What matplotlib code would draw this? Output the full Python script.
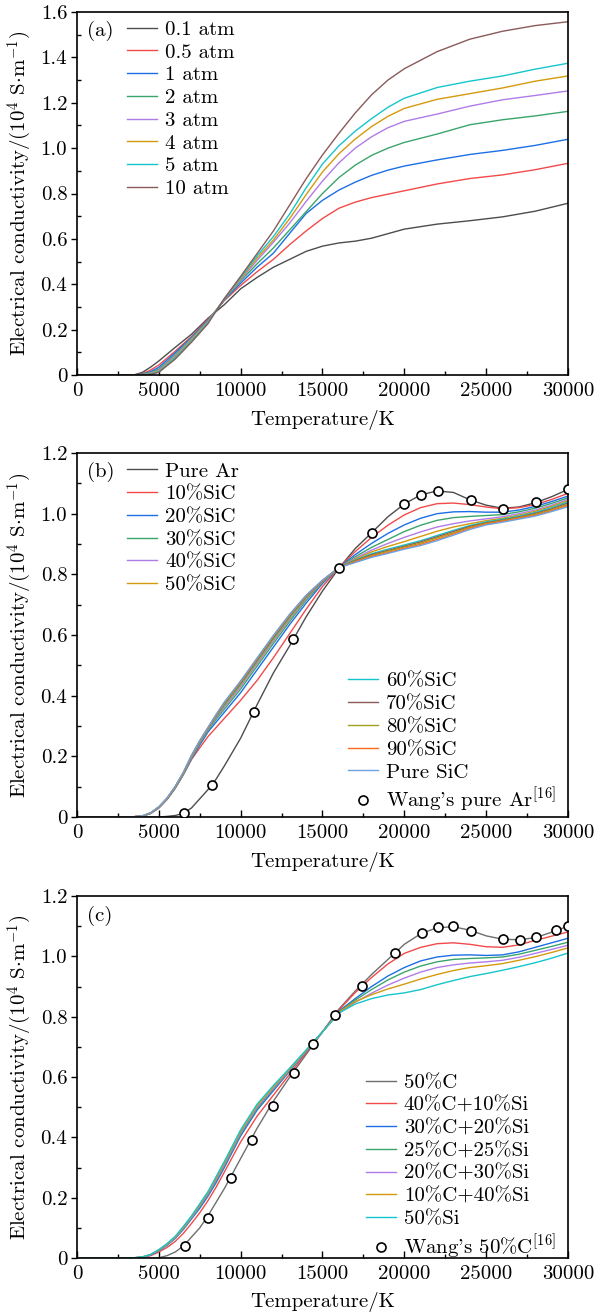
import numpy as np
import matplotlib
matplotlib.use('Agg')
from matplotlib import pyplot as plt
from matplotlib.ticker import MultipleLocator, FuncFormatter
from matplotlib.lines import Line2D

plt.rcParams['font.family'] = ['cmr10', 'DejaVu Serif']
plt.rcParams['mathtext.fontset'] = 'cm'
plt.rcParams['axes.formatter.use_mathtext'] = True
plt.rcParams['font.size'] = 15

# colours
C_GRAY = '#4d4d4d'
C_RED = '#f24a4a'
C_BLUE = '#1c6fe4'
C_GREEN = '#3aa56b'
C_PURPLE = '#b07ce8'
C_ORANGE = '#d49a0c'
C_CYAN = '#14c6cc'
C_BROWN = '#8a5a5a'
C_OLIVE = '#a3a21c'
C_ORANGERED = '#ff6a1f'
C_LIGHTBLUE = '#6aa3e0'

# ---------------- panel (a): pressure ----------------
T_a = [0, 3000, 3500, 4000, 4500, 5000, 6000, 7000, 8000, 8500, 9000, 10000, 11000, 12000,
       13000, 14000, 15000, 16000, 17000, 18000, 19000, 20000, 22000, 24000, 26000, 28000, 30000]
p_labels = ['0.1 atm', '0.5 atm', '1 atm', '2 atm', '3 atm', '4 atm', '5 atm', '10 atm']
p_colors = [C_GRAY, C_RED, C_BLUE, C_GREEN, C_PURPLE, C_ORANGE, C_CYAN, C_BROWN]
sig_01 = [0, 0, .001, .012, .035, .062, .122, .18, .25, .28, .31, .38, .43, .475,
          .51, .545, .568, .582, .59, .603, .623, .643, .665, .68, .697, .722, .757]
sig_05 = [0, 0, 0, .006, .022, .044, .105, .17, .245, .284, .328, .395, .455, .51,
          .575, .635, .69, .735, .762, .782, .797, .812, .842, .866, .882, .905, .933]
sig_1 = [0, 0, 0, .004, .015, .034, .098, .166, .241, .285, .331, .405, .475, .537,
         .625, .712, .77, .815, .85, .88, .903, .921, .948, .972, .99, 1.012, 1.039]
sig_2 = [0, 0, 0, .003, .012, .026, .09, .163, .238, .285, .333, .415, .49, .56,
         .64, .72, .80, .87, .925, .968, 1.0, 1.025, 1.062, 1.103, 1.125, 1.142, 1.162]
sig_3 = [0, 0, 0, .002, .009, .022, .085, .159, .236, .285, .334, .42, .505, .585,
         .67, .765, .855, .935, 1.0, 1.05, 1.09, 1.118, 1.15, 1.185, 1.213, 1.232, 1.252]
sig_4 = [0, 0, 0, .001, .007, .018, .08, .155, .233, .285, .335, .425, .515, .595,
         .69, .795, .895, .975, 1.04, 1.095, 1.14, 1.175, 1.215, 1.24, 1.265, 1.295, 1.318]
sig_5 = [0, 0, 0, .001, .005, .015, .076, .15, .23, .284, .336, .43, .525, .61,
         .71, .825, .93, 1.01, 1.075, 1.13, 1.18, 1.22, 1.267, 1.295, 1.318, 1.348, 1.374]
sig_10 = [0, 0, 0, 0, .003, .012, .07, .145, .226, .282, .337, .435, .535, .635,
          .75, .865, .97, 1.065, 1.155, 1.235, 1.30, 1.35, 1.425, 1.48, 1.515, 1.54, 1.557]

# ---------------- panel (b): Ar + SiC ----------------
T_b = [0, 3000, 3500, 4000, 4500, 5000, 5500, 6000, 6500, 7000, 7500, 8000, 8500, 9000,
       10000, 11000, 12000, 13000, 14000, 15000, 16000, 17000, 18000, 19000, 20000, 21000,
       22000, 23000, 24000, 25000, 26000, 27000, 28000, 29000, 30000]
sic_labels = ['Pure Ar', '10%SiC', '20%SiC', '30%SiC', '40%SiC', '50%SiC',
              '60%SiC', '70%SiC', '80%SiC', '90%SiC', 'Pure SiC']
sic_colors = [C_GRAY, C_RED, C_BLUE, C_GREEN, C_PURPLE, C_ORANGE,
              C_CYAN, C_BROWN, C_OLIVE, C_ORANGERED, C_LIGHTBLUE]
ar_pure = [0, 0, 0, 0, 0, 0, .002, .005, .012, .03, .06, .09, .125, .168,
           .26, .37, .475, .565, .66, .745, .82, .885, .937, .99, 1.032, 1.062,
           1.075, 1.07, 1.046, 1.028, 1.018, 1.022, 1.036, 1.056, 1.08]
sic_10 = [0, 0, .001, .003, .012, .03, .058, .095, .14, .19, .228, .265, .295, .325,
          .385, .45, .525, .605, .685, .76, .822, .875, .922, .962, .996, 1.02,
          1.033, 1.035, 1.03, 1.022, 1.016, 1.02, 1.03, 1.047, 1.067]
sic_20 = [0, 0, .001, .003, .012, .03, .058, .095, .14, .192, .237, .28, .313, .345,
          .41, .485, .56, .635, .705, .77, .822, .865, .902, .935, .963, .985,
          1.0, 1.006, 1.007, 1.005, 1.005, 1.012, 1.024, 1.04, 1.058]
sic_30 = [0, 0, .001, .003, .012, .031, .059, .096, .141, .195, .242, .285, .322, .355,
          .422, .497, .572, .645, .714, .774, .822, .858, .889, .915, .941, .962,
          .978, .987, .991, .994, .997, 1.006, 1.018, 1.034, 1.052]
sic_40 = [0, 0, .001, .003, .012, .031, .059, .097, .142, .197, .245, .288, .327, .362,
          .43, .505, .58, .652, .719, .776, .822, .853, .88, .902, .922, .94,
          .956, .967, .976, .983, .99, 1.0, 1.012, 1.028, 1.047]
sic_50 = [0, 0, .001, .003, .013, .032, .06, .098, .143, .199, .247, .29, .33, .367,
          .435, .51, .585, .656, .722, .777, .822, .85, .874, .892, .908, .925,
          .942, .956, .967, .977, .985, .995, 1.008, 1.024, 1.043]
sic_60 = [0, 0, .001, .003, .013, .032, .06, .099, .144, .2, .248, .291, .332, .37,
          .439, .514, .589, .66, .725, .778, .822, .847, .868, .883, .897, .911,
          .928, .945, .961, .973, .982, .992, 1.004, 1.02, 1.039]
sic_70 = [0, 0, .001, .003, .013, .033, .061, .099, .145, .201, .249, .292, .334, .373,
          .442, .517, .592, .663, .727, .779, .822, .845, .865, .879, .893, .907,
          .924, .941, .958, .97, .979, .989, 1.001, 1.016, 1.035]
sic_80 = [0, 0, .001, .003, .013, .033, .061, .1, .146, .202, .25, .293, .336, .375,
          .445, .52, .595, .665, .729, .78, .822, .843, .862, .876, .89, .903,
          .92, .937, .955, .968, .977, .987, .998, 1.013, 1.031]
sic_90 = [0, 0, .001, .004, .014, .033, .062, .1, .147, .203, .251, .294, .337, .377,
          .447, .522, .597, .667, .73, .78, .822, .841, .859, .872, .886, .899,
          .915, .933, .952, .966, .975, .985, .995, 1.01, 1.027]
sic_100 = [0, 0, .001, .004, .014, .034, .063, .101, .148, .204, .252, .295, .338, .379,
           .449, .524, .599, .669, .731, .781, .822, .839, .856, .869, .883, .895,
           .911, .929, .948, .963, .972, .982, .992, 1.007, 1.023]
wang_ar_T = [6550, 8250, 10800, 13200, 16000, 18000, 20000, 21000, 22050, 24050, 26050, 28050, 30000]
wang_ar_sig = [0.012, 0.104, 0.346, 0.586, 0.822, 0.937, 1.032, 1.063, 1.075, 1.045, 1.017, 1.037, 1.08]

# ---------------- panel (c): C + Si ----------------
T_c = [0, 3000, 3500, 4000, 4500, 5000, 5500, 6000, 6500, 7000, 7500, 8000, 8500, 9000,
       10000, 11000, 12000, 13000, 14000, 15000, 16000, 17000, 18000, 19000, 20000, 21000,
       22000, 23000, 24000, 25000, 26000, 27000, 28000, 29000, 30000]
csi_labels = ['50%C', '40%C+10%Si', '30%C+20%Si', '25%C+25%Si',
              '20%C+30%Si', '10%C+40%Si', '50%Si']
csi_colors = ['#6e6e6e', C_RED, C_BLUE, C_GREEN, C_PURPLE, C_ORANGE, C_CYAN]
c50 = [0, 0, 0, 0, 0, .001, .008, .02, .04, .07, .1, .14, .185, .23,
       .33, .43, .52, .60, .675, .75, .825, .885, .94, .99, 1.04, 1.075,
       1.095, 1.098, 1.087, 1.068, 1.057, 1.055, 1.062, 1.08, 1.1]
c40si10 = [0, 0, .001, .002, .008, .02, .035, .055, .082, .115, .15, .19, .235, .285,
           .385, .47, .54, .61, .68, .75, .822, .88, .93, .975, 1.01, 1.03,
           1.042, 1.045, 1.04, 1.032, 1.03, 1.038, 1.053, 1.067, 1.081]
c30si20 = [0, 0, .001, .003, .01, .024, .042, .065, .095, .13, .165, .205, .25, .3,
           .405, .49, .555, .62, .685, .75, .818, .86, .9, .935, .963, .985,
           .998, 1.004, 1.005, 1.003, 1.005, 1.015, 1.03, 1.045, 1.06]
c25si25 = [0, 0, .001, .003, .011, .025, .044, .067, .098, .133, .17, .21, .256, .305,
           .41, .495, .56, .622, .686, .75, .815, .855, .89, .922, .948, .968,
           .982, .99, .993, .995, .998, 1.007, 1.02, 1.033, 1.047]
c20si30 = [0, 0, .001, .003, .011, .026, .045, .068, .1, .135, .173, .213, .26, .31,
           .415, .5, .563, .624, .687, .75, .812, .848, .878, .905, .928, .948,
           .963, .972, .978, .982, .987, .997, 1.01, 1.023, 1.037]
c10si40 = [0, 0, .001, .004, .012, .027, .046, .07, .102, .138, .176, .217, .265, .315,
           .42, .505, .567, .627, .688, .75, .815, .85, .873, .892, .908, .925,
           .94, .953, .963, .969, .976, .987, .999, 1.013, 1.028]
si50 = [0, 0, .001, .004, .012, .028, .048, .072, .105, .14, .18, .22, .27, .32,
        .425, .51, .572, .63, .69, .75, .812, .842, .86, .872, .879, .89,
        .906, .92, .933, .943, .954, .966, .979, .994, 1.011]
wang_c_T = [6600, 8000, 9400, 10700, 11950, 13250, 14450, 15750, 17400, 19450, 21050,
            22050, 23000, 24050, 26050, 27050, 28050, 29250, 30000]
wang_c_sig = [0.04, 0.133, 0.264, 0.391, 0.504, 0.612, 0.708, 0.805, 0.902, 1.012, 1.078,
              1.097, 1.1, 1.084, 1.056, 1.054, 1.063, 1.087, 1.1]

YLABEL = r'Electrical conductivity/(10$^4$ S$\cdot$m$^{-1}$)'
FS = 15


def style_axes(ax, ymax):
    ax.set_xlim(0, 30000)
    ax.set_ylim(0, ymax)
    ax.xaxis.set_major_locator(MultipleLocator(5000))
    ax.xaxis.set_minor_locator(MultipleLocator(2500))
    ax.yaxis.set_major_locator(MultipleLocator(0.2))
    ax.yaxis.set_minor_locator(MultipleLocator(0.1))
    ax.xaxis.set_major_formatter(FuncFormatter(lambda v, p: f"{v:.0f}"))
    ax.yaxis.set_major_formatter(FuncFormatter(lambda v, p: "0" if abs(v) < 1e-9 else f"{v:.1f}"))
    ax.tick_params(axis='x', which='major', direction='in', length=5, width=1, pad=5, labelsize=FS)
    ax.tick_params(axis='x', which='minor', direction='in', length=3, width=1)
    ax.tick_params(axis='y', which='major', direction='out', length=4, width=1, pad=3, labelsize=FS)
    ax.tick_params(axis='y', which='minor', direction='in', length=3, width=1)
    for s in ax.spines.values():
        s.set_linewidth(1.2)
    ax.set_xlabel('Temperature/K', fontsize=FS)
    ax.set_ylabel(YLABEL, fontsize=FS)
    ax.xaxis.set_label_coords(0.5, -0.095)
    ax.yaxis.set_label_coords(-0.088, 0.5)


fig = plt.figure(figsize=(5.96, 13.15), dpi=100)
L, W = 0.1292, 0.8238
ax_a = fig.add_axes([L, 0.7148, W, 0.2761])
ax_b = fig.add_axes([L, 0.3787, W, 0.2768])
ax_c = fig.add_axes([L, 0.0433, W, 0.2753])

leg_kw = dict(frameon=False, handlelength=1.45, handletextpad=0.38, labelspacing=0.2,
              borderpad=0, borderaxespad=0, fontsize=FS, loc='upper left')

# (a)
for sig, lab, col in zip([sig_01, sig_05, sig_1, sig_2, sig_3, sig_4, sig_5, sig_10], p_labels, p_colors):
    ax_a.plot(T_a, sig, color=col, lw=1.0, label=lab)
style_axes(ax_a, 1.6)
ax_a.legend(bbox_to_anchor=(0.102, 0.977), **leg_kw)
ax_a.text(0.02, 0.948, '(a)', transform=ax_a.transAxes, va='center', ha='left', fontsize=FS)

# (b)
sic_series = [ar_pure, sic_10, sic_20, sic_30, sic_40, sic_50, sic_60, sic_70, sic_80, sic_90, sic_100]
lines_b = []
for sig, lab, col in zip(sic_series, sic_labels, sic_colors):
    ln, = ax_b.plot(T_b, sig, color=col, lw=1.0, label=lab)
    lines_b.append(ln)
ax_b.plot(wang_ar_T, wang_ar_sig, ls='none', marker='o', ms=6.5, mfc='white', mec='black', mew=1.2, zorder=5)
style_axes(ax_b, 1.2)
wang_b = Line2D([], [], ls='none', marker='o', ms=6.5, mfc='white', mec='black', mew=1.2)
leg1 = ax_b.legend(lines_b[:6], sic_labels[:6], bbox_to_anchor=(0.102, 0.975), **leg_kw)
ax_b.add_artist(leg1)
ax_b.legend(lines_b[6:] + [wang_b], sic_labels[6:] + [r"Wang's pure Ar$^{[16]}$"],
            bbox_to_anchor=(0.552, 0.398), **leg_kw)
ax_b.text(0.02, 0.948, '(b)', transform=ax_b.transAxes, va='center', ha='left', fontsize=FS)

# (c)
csi_series = [c50, c40si10, c30si20, c25si25, c20si30, c10si40, si50]
lines_c = []
for sig, lab, col in zip(csi_series, csi_labels, csi_colors):
    ln, = ax_c.plot(T_c, sig, color=col, lw=1.0, label=lab)
    lines_c.append(ln)
ax_c.plot(wang_c_T, wang_c_sig, ls='none', marker='o', ms=6.5, mfc='white', mec='black', mew=1.2, zorder=5)
style_axes(ax_c, 1.2)
wang_c = Line2D([], [], ls='none', marker='o', ms=6.5, mfc='white', mec='black', mew=1.2)
ax_c.legend(lines_c + [wang_c], csi_labels + [r"Wang's 50%C$^{[16]}$"],
            bbox_to_anchor=(0.588, 0.51), **leg_kw)
ax_c.text(0.02, 0.946, '(c)', transform=ax_c.transAxes, va='center', ha='left', fontsize=FS)

fig.savefig('out.png', dpi=100)
